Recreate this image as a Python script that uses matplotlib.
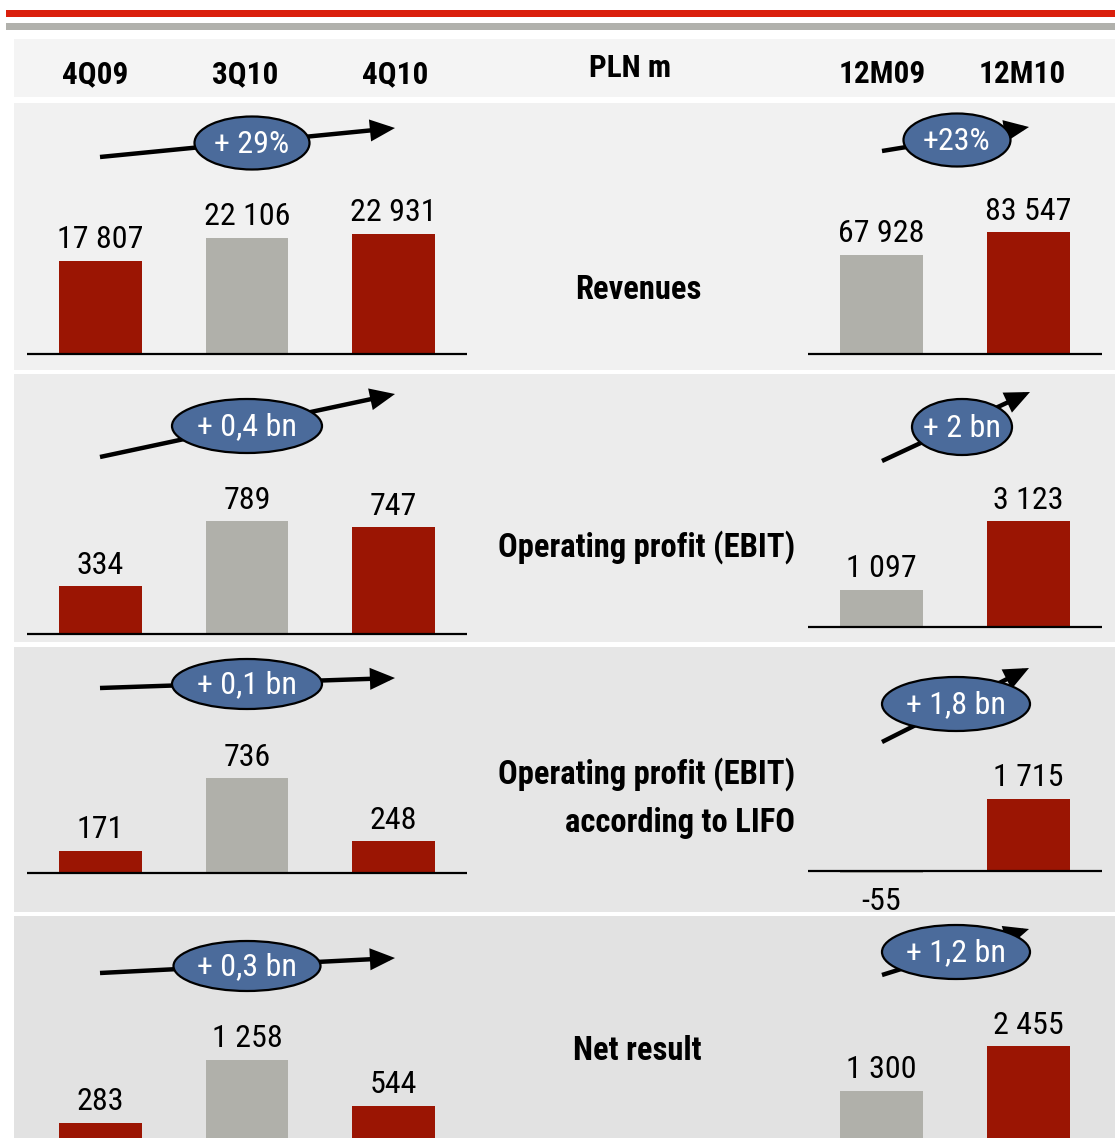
import matplotlib
matplotlib.use("Agg")
import matplotlib.pyplot as plt
from matplotlib.patches import Rectangle, Ellipse, FancyArrowPatch

# ---------------- data ----------------
quarter_labels = ['4Q09', '3Q10', '4Q10']
year_labels = ['12M09', '12M10']
unit_label = 'PLN m'
metric_names = ['Revenues', 'Operating profit (EBIT)',
                'Operating profit (EBIT)\naccording to LIFO', 'Net result']
revenues_q = [17807, 22106, 22931]
revenues_y = [67928, 83547]
ebit_q = [334, 789, 747]
ebit_y = [1097, 3123]
ebit_lifo_q = [171, 736, 248]
ebit_lifo_y = [-55, 1715]
net_q = [283, 1258, 544]
net_y = [1300, 2455]
changes_q = ['+ 29%', '+ 0,4 bn', '+ 0,1 bn', '+ 0,3 bn']
changes_y = ['+23%', '+ 2 bn', '+ 1,8 bn', '+ 1,2 bn']

# ---------------- style ----------------
W, H = 1115, 1138
RED = '#9b1503'
GRAY = '#b0b0aa'
BLUE = '#4b6b9b'
FONT = ['Roboto Condensed', 'Archivo Narrow', 'DejaVu Sans']
plt.rcParams['font.family'] = FONT
VS = 23   # value font size
HS = 22.5 # header font size
TS = 23.5 # metric title font size

fig = plt.figure(figsize=(W / 100, H / 100), dpi=100)
fig.patch.set_facecolor('white')

bg = fig.add_axes([0, 0, 1, 1], zorder=0)
bg.set_xlim(0, W)
bg.set_ylim(H, 0)
bg.axis('off')

# top strips
bg.add_patch(Rectangle((6, 10), W - 6, 7, color='#da1f0c', lw=0))
bg.add_patch(Rectangle((6, 23), W - 6, 7, color='#b1b1ac', lw=0))
# header panel
bg.add_patch(Rectangle((14, 39), W - 14, 58, color='#f4f4f4', lw=0))

panel_tops = [103, 374, 647, 916]
panel_bots = [370, 642, 912, 1138]
panel_cols = ['#f1f1f1', '#ececec', '#e6e6e6', '#e2e2e2']
for t, b, c in zip(panel_tops, panel_bots, panel_cols):
    bg.add_patch(Rectangle((14, t), W - 14, b - t, color=c, lw=0))

# header texts
for lab, x in zip(quarter_labels, [95, 245, 395]):
    bg.text(x, 74, lab, ha='center', va='center', fontsize=HS, fontweight='bold')
bg.text(630, 68, unit_label, ha='center', va='center', fontsize=HS, fontweight='bold')
for lab, x in zip(year_labels, [882, 1022]):
    bg.text(x, 74, lab, ha='center', va='center', fontsize=HS, fontweight='bold')

# metric titles
bg.text(638, 290, metric_names[0], ha='center', va='center', fontsize=TS, fontweight='bold')
bg.text(647, 547, metric_names[1], ha='center', va='center', fontsize=TS, fontweight='bold')
l1, l2 = metric_names[2].split('\n')
bg.text(795, 774, l1, ha='right', va='center', fontsize=TS, fontweight='bold')
bg.text(795, 823, l2, ha='right', va='center', fontsize=TS, fontweight='bold')
bg.text(637, 1051, metric_names[3], ha='center', va='center', fontsize=TS, fontweight='bold')

# ---------------- bars ----------------
def fmt(v):
    return f"{v:,}".replace(',', ' ')

def bar_group(values, colors, x0, x1, top, baseline, scale, bottom_px):
    ax = fig.add_axes([x0 / W, 1 - bottom_px / H, (x1 - x0) / W, (bottom_px - top) / H],
                      zorder=1)
    ax.patch.set_alpha(0)
    ax.axis('off')
    n = len(values)
    ax.set_xlim(-0.5, n - 0.5)
    ax.set_ylim(-(bottom_px - baseline) / scale, (baseline - top) / scale)
    xs = list(range(n))
    ax.bar(xs, values, width=0.565, color=colors, lw=0)
    ax.axhline(0, color='black', lw=1.6, zorder=3)
    for x, v in zip(xs, values):
        if v >= 0:
            ax.annotate(fmt(v), (x, v), xytext=(0, 9), textcoords='offset points',
                        ha='center', va='baseline', fontsize=VS)
        else:
            ax.annotate(fmt(v), (x, v), xytext=(0, -10), textcoords='offset points',
                        ha='center', va='top', fontsize=VS)
    return ax

qcols = [RED, GRAY, RED]
ycols = [GRAY, RED]
q_series = [revenues_q, ebit_q, ebit_lifo_q, net_q]
y_series = [revenues_y, ebit_y, ebit_lifo_y, net_y]
q_scales = [0.00525, 0.143, 0.129, 0.0646]
y_scales = [0.00146, 0.0338, 0.042, 0.0385]
q_base = [354, 634, 873, 1141]
y_base = [354, 627, 871, 1141]
for i in range(4):
    bar_group(q_series[i], qcols, 27, 467, panel_tops[i], q_base[i], q_scales[i], q_base[i] + 3)
    bar_group(y_series[i], ycols, 808, 1102, panel_tops[i], y_base[i], y_scales[i],
              y_base[i] + (12 if min(y_series[i]) < 0 else 3))

# ---------------- change badges ----------------
ov = fig.add_axes([0, 0, 1, 1], zorder=2)
ov.patch.set_alpha(0)
ov.set_xlim(0, W)
ov.set_ylim(H, 0)
ov.axis('off')

badges_q = [((252, 143, 115, 53), (100, 157, 395, 128)),
            ((247, 426, 150, 54), (100, 457, 395, 394)),
            ((247, 684, 150, 50), (100, 688, 395, 678)),
            ((247, 966, 147, 50), (100, 973, 395, 958))]
badges_y = [((957, 140, 107, 53), (882, 151, 1029, 127)),
            ((962, 427, 100, 56), (882, 461, 1030, 392)),
            ((956, 704, 148, 54), (882, 742, 1029, 668)),
            ((956, 952, 148, 54), (882, 975, 1029, 929))]

def badge(ell, arr, text):
    cx, cy, w, h = ell
    ax0, ay0, ax1, ay1 = arr
    ov.add_patch(FancyArrowPatch((ax0, ay0), (ax1, ay1),
                                 arrowstyle='-|>,head_length=1.25,head_width=0.55',
                                 mutation_scale=10, lw=3.2, color='black',
                                 shrinkA=0, shrinkB=0, joinstyle='miter', capstyle='butt'))
    ov.add_patch(Ellipse((cx, cy), w, h, facecolor=BLUE, edgecolor='black', lw=1.6, zorder=3))
    ov.text(cx, cy + 1, text, ha='center', va='center', color='white', fontsize=VS, zorder=4)

for (e, a), t in zip(badges_q, changes_q):
    badge(e, a, t)
for (e, a), t in zip(badges_y, changes_y):
    badge(e, a, t)

fig.savefig('out.png', dpi=100, facecolor='white')
